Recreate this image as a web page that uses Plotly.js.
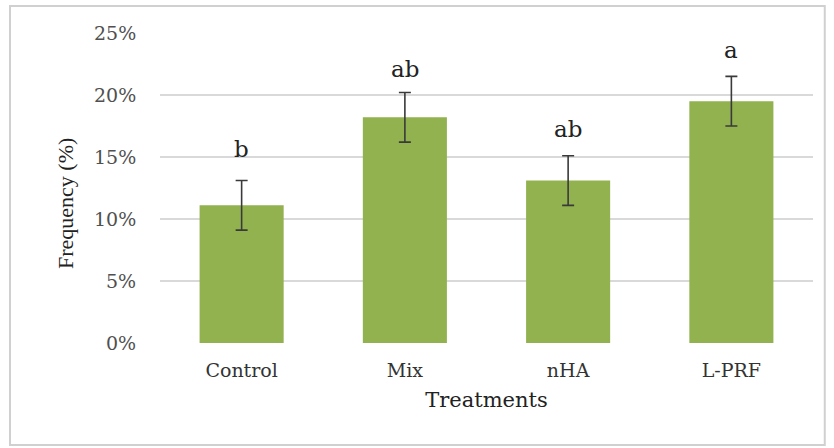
<!DOCTYPE html>
<html>
<head>
<meta charset="utf-8">
<script src="https://cdn.plot.ly/plotly-3.0.1.min.js"></script>
<style>html,body{margin:0;padding:0;background:#fff;}#chart{width:834px;height:448px;}</style>
</head>
<body>
<div id="chart"></div>
<script>
const treatments = ["Control", "Mix", "nHA", "L-PRF"];
const frequency = [0.111, 0.182, 0.131, 0.195];
const errors = [0.020, 0.020, 0.020, 0.020];
const groupLetters = ["b", "ab", "ab", "a"];
const letterY = [0.150, 0.2145, 0.166, 0.230];
const yTickVals = [0, 0.05, 0.10, 0.15, 0.20, 0.25];

const SERIF = "DejaVu Serif, serif";

const trace = {
  type: "bar",
  x: treatments,
  y: frequency,
  marker: {color: "#91b24f"},
  error_y: {type: "data", array: errors, visible: true, color: "#3a3a3a", thickness: 1.6, width: 6},
  hoverinfo: "skip"
};

const annotations = treatments.map((t, i) => ({
  x: t, y: letterY[i], xref: "x", yref: "y",
  text: groupLetters[i], showarrow: false, yanchor: "bottom", yshift: -7,
  font: {family: SERIF, size: 23, color: "#222"}
}));
annotations.push({
  xref: "paper", yref: "paper", x: -0.1455, y: 0.4516,
  xanchor: "center", yanchor: "middle", textangle: -90,
  text: "Frequency (%)", showarrow: false,
  font: {family: "Liberation Serif, serif", size: 22, color: "#222"}
});

const layout = {
  width: 834, height: 448,
  margin: {l: 160, r: 21, t: 33, b: 105},
  paper_bgcolor: "#fff", plot_bgcolor: "#fff",
  bargap: 0.485,
  showlegend: false,
  font: {family: SERIF, color: "#404040"},
  xaxis: {
    type: "category",
    showgrid: false, zeroline: false, showline: false,
    ticks: "outside", ticklen: 10, tickcolor: "rgba(0,0,0,0)",
    tickfont: {family: SERIF, size: 19, color: "#333"},
    title: {text: "Treatments", font: {family: SERIF, size: 21, color: "#222"}, standoff: 12}
  },
  yaxis: {
    range: [0, 0.25],
    tickvals: yTickVals,
    tickformat: ".0%",
    showgrid: true, gridcolor: "#d9d9d9", gridwidth: 1.5,
    zeroline: false, showline: false,
    ticks: "outside", ticklen: 19, tickcolor: "rgba(0,0,0,0)",
    tickfont: {family: SERIF, size: 19, color: "#505050"}
  },
  annotations: annotations,
  shapes: [{
    type: "rect", xref: "paper", yref: "paper",
    x0: -0.2297, x1: 1.018, y0: -0.329, y1: 1.087,
    line: {color: "#d0d0d0", width: 2}, fillcolor: "rgba(0,0,0,0)", layer: "below"
  }]
};

Plotly.newPlot("chart", [trace], layout, {staticPlot: true, displayModeBar: false});
</script>
</body>
</html>
